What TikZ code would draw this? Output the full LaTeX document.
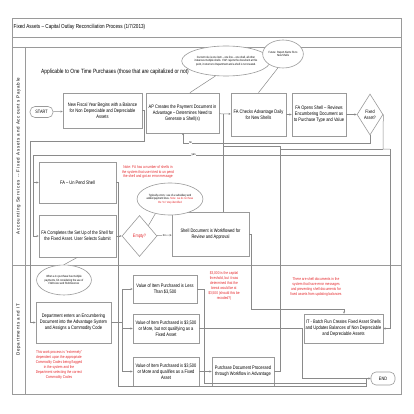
\documentclass[tikz,border=0pt]{standalone}
\usepackage{fontspec}
\setmainfont[FakeStretch=0.8]{Liberation Sans}
\newfontfamily\lanefont[LetterSpace=18]{Liberation Sans}
\usetikzlibrary{shapes.geometric,arrows.meta}
\definecolor{boxgray}{HTML}{9A9A9A}
\definecolor{linegray}{HTML}{8A8A8A}
\definecolor{notered}{HTML}{E4262A}
\hyphenpenalty=10000
\exhyphenpenalty=10000
\begin{document}
\begin{tikzpicture}[x=1pt,y=-1pt,
  frame/.style={draw=boxgray, line width=0.7pt},
  box/.style={draw=boxgray, line width=0.6pt, fill=white, align=center, inner sep=0.5pt,
    font=\fontsize{5}{6}\selectfont},
  ell/.style={draw=boxgray, line width=0.6pt, fill=white, ellipse, align=center, inner sep=0pt,
    font=\fontsize{3}{3.6}\selectfont},
  dia/.style={draw=boxgray, line width=0.6pt, fill=white, diamond, aspect=0.63, align=center, inner sep=0pt,
    font=\fontsize{4.8}{5.8}\selectfont},
  term/.style={draw=boxgray, line width=0.6pt, fill=white, rounded corners=5pt, align=center,
    font=\fontsize{4.8}{5.8}\selectfont},
  note/.style={text=notered, align=center, inner sep=0pt, font=\fontsize{4}{4.9}\selectfont},
  conn/.style={draw=linegray, line width=0.5pt},
  arr/.style={conn, -{Stealth[length=2.2pt,width=2pt]}},
  lbl/.style={font=\fontsize{3.2}{3.6}\selectfont, fill=white, inner sep=0.4pt}
]
\useasboundingbox (0,0) rectangle (414,414);
% frame
\draw[frame] (12,18) rectangle (401,394);
\draw[frame] (12,37) -- (401,37);
\draw[frame] (12,47) -- (401,47);
\draw[frame] (25,47) -- (25,394);
\draw[frame] (12,265) -- (401,265);
\node[anchor=west, font=\fontsize{5.8}{6.5}\selectfont, inner sep=0pt] (title) at (13.5,27.5) {Fixed Assets -- Capital Outlay Reconciliation Process (1/7/2013)};
\node[rotate=90, font=\lanefont\fontsize{4.5}{5}\selectfont, inner sep=0pt] (lane1) at (18.5,156) {Accounting Services -- Fixed Assets and Accounts Payable};
\node[rotate=90, font=\lanefont\fontsize{4.5}{5}\selectfont, inner sep=0pt] (lane2) at (18.5,330) {Departments and IT};
\node[font=\fontsize{6.1}{7}\selectfont, inner sep=0pt] (appl) at (115,72) {Applicable to One Time Purchases (those that are capitalized or not)};

% nodes top row
\node[term, minimum width=23pt, minimum height=11pt] (start) at (41.5,112) {START};
\node[box, minimum width=79pt, minimum height=35pt] (nfy) at (102.5,110.5) {New Fiscal Year Begins with a Balance\\for Non Depreciable and Depreciable\\Assets};
\node[box, minimum width=73pt, minimum height=40pt] (ap) at (182.5,113) {AP Creates the Payment Document in\\Advantage -- Determines Need to\\Generate a Shell(s)};
\node[box, minimum width=55pt, minimum height=43pt] (fac) at (258.5,114.5) {FA Checks Advantage Daily\\for New Shells};
\node[box, minimum width=54pt, minimum height=43pt] (fao) at (319,114.5) {FA Opens Shell -- Reviews\\Encumbering Document as\\to Purchase Type and Value};
\node[dia, minimum width=26pt, minimum height=41pt] (fa) at (370,114.5) {Fixed\\Asset?};
\node[ell, minimum width=80pt, minimum height=30pt] (e1) at (226,61) {Current rule is one item -- one line -- one shell, all other\\instances multiple shells. If AP rejects the document at this\\point, it returns to Department and a shell is not created.};
\node[ell, minimum width=38pt, minimum height=28pt] (e2) at (283,54) {Future: Report Alerts FA to\\New Shells};

% middle
\node[box, minimum width=77pt, minimum height=41pt] (unp) at (77.5,182.5) {FA -- Un Pend Shell};
\node[box, minimum width=77pt, minimum height=42pt] (fcs) at (77.5,236) {FA Completes the Set Up of the Shell for\\the Fixed Asset. User Selects Submit};
\node[dia, minimum width=35pt, minimum height=41pt, text=notered] (emp) at (139.5,236) {Empty?};
\node[box, minimum width=77pt, minimum height=44pt] (sd) at (210.5,234) {Shell Document is Workflowed for\\Review and Approval};
\node[ell, minimum width=54pt, minimum height=32pt] (e3) at (170,199) {Typically errors: use of a subsidiary and\\added payment lines. \textcolor{notered}{Note: we do not have}\\\textcolor{notered}{the ``no'' step identified}};
\node[note] (n1) at (148,172) {Note: FA has a number of shells in\\the system that user tried to un pend\\the shell and got an error message};
\node[ell, minimum width=49pt, minimum height=30pt] (e4) at (64,280) {When a 1x purchase has multiple\\payments, FA considering the use of\\FAD1xxxx and FAD2xxxxxxx};

% bottom lane
\node[box, minimum width=75pt, minimum height=41pt] (dep) at (73.5,322.5) {Department enters an Encumbering\\Document into the Advantage System\\and Assigns a Commodity Code};
\node[box, minimum width=64pt, minimum height=28pt] (v1) at (165,289) {Value of Item Purchased is Less\\Than \$3,500};
\node[box, minimum width=66pt, minimum height=29pt] (v2) at (166,328.5) {Value of Item Purchased is \$3,500\\or More, but not qualifying as a\\Fixed Asset};
\node[box, minimum width=66pt, minimum height=29pt] (v3) at (166,371.5) {Value of Item Purchased is \$3,500\\or More and qualifies as a Fixed\\Asset};
\node[box, minimum width=62pt, minimum height=29pt] (pd) at (243,371.5) {Purchase Document Processed\\through Workflow in Advantage};
\node[box, minimum width=79pt, minimum height=29pt] (it) at (343.5,328.5) {IT - Batch Run Creates Fixed Asset Shells\\and Updates Balances of Non Depreciable\\and Depreciable Assets};
\node[term, minimum width=24pt, minimum height=13pt] (end) at (383,378.5) {END};
\node[note] (n2) at (59,365) {This work process is ``extremely''\\dependent upon the appropriate\\Commodity Codes being flagged\\in the system and the\\Department selecting the correct\\Commodity Codes};
\node[note] (n3) at (224,286) {\$3,000 is the capital\\threshold, but it was\\determined that the\\break would be at\\\$3,500 (should this be\\recoded?)};
\node[note] (n4) at (316,287) {There are shell documents in the\\system that have error messages\\and preventing shell documents for\\fixed assets from updating balances};

% helper coordinates
\coordinate (jx) at (223,114.5);
\coordinate (nfyr) at (144,141);
\coordinate (lftA) at (30,141);
\coordinate (lftB) at (33,155);
\coordinate (rgt) at (390,149);
\coordinate (faj) at (383,149);
\coordinate (pdup) at (280,146);
\coordinate (dj) at (122,322.5);
\coordinate (unpx) at (118,182.5);
\coordinate (endj) at (366,378.5);

% connectors
\draw[arr] (start) -- (nfy);
\draw[arr] (ap) -- (fac);
\draw[arr] (fac) -- (fao);
\draw[arr] (fao) -- (fa);
\draw[conn] (e1.235) -- (ap.70);
\draw[conn] (e2.250) -- (fac.north);
\draw[conn] (e3.225) -- (emp.north east);
\draw[conn] (e4.north) -- (fcs.south);
\draw[arr] (fcs) -- (emp);
\draw[arr] (emp) -- node[lbl]{no} (sd);
% no from Fixed Asset? back to AP
\draw[arr] (fa.south) -- (370,143) -- node[lbl, pos=0.96]{no} (183,143) -- (183,133);
% yes path
\draw[conn] (fa.east) -- (faj) -- (rgt);
\draw[arr] (rgt) |- (it.east);
\draw[conn] (390,155) -- node[lbl, pos=0.55]{yes} (lftB |- 0,155) -- (33,236);
\draw[arr] (33,182.5) -- (unp.west);
\draw[arr] (33,236) -- (fcs.west);
% New fiscal year to Department
\draw[conn] (nfy.east) -| (nfyr) -- (lftA);
\draw[arr] (lftA) |- (dep.west);
% shell doc & purchase doc returns
\draw[conn] (sd.north -| jx) -- (jx);
\draw[conn] (jx |- pdup) -- (pdup) -- (280,149) -- (faj);
\draw[conn] (pd.east) -| (pdup);
% shell doc to IT
\draw[arr] (sd.east) -- (251,234) -- (251,309) -| (it.north -| 344,0);
% department to value boxes
\draw[conn] (dep.east) -- (dj);
\draw[conn] (dj |- v1.west) -- (dj |- v3.west);
\draw[arr] (dj |- v1.west) -- (v1.west);
\draw[arr] (dj |- v2.west) -- (v2.west);
\draw[arr] (dj |- v3.west) -- (v3.west);
\draw[arr] (v3) -- (pd);
% to END
\draw[conn] (unp.east) -- (unpx) -- (118,386) -- (366,386) -- (endj);
\draw[conn] (v1.east) -- (204,289) -- (204,383) -- (366,383);
\draw[conn] (v2.east) -- (302,328.5) -- (302,378.5) -- (endj);
\draw[arr] (endj) -- (end.west);
\end{tikzpicture}
\end{document}
